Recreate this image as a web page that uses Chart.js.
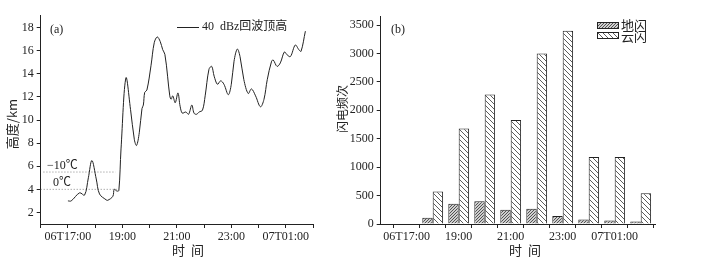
<!DOCTYPE html>
<html>
<head>
<meta charset="utf-8">
<script src="https://cdn.jsdelivr.net/npm/chart.js@4/dist/chart.umd.min.js"></script>
<style>
  html, body { margin: 0; padding: 0; background: #fff; }
  #wrap { position: relative; width: 710px; height: 261px; }
  #chartA { position: absolute; left: 0; top: 0; }
  #chartB { position: absolute; left: 330px; top: 0; }
</style>
</head>
<body>
<div id="wrap">
  <canvas id="chartA" width="330" height="261"></canvas>
  <canvas id="chartB" width="380" height="261"></canvas>
</div>
<script>
// (a) 40 dBz echo top, time in hours (17 = 06T17:00, 25 = 07T01:00)
var echoHours = [17.0, 17.12, 17.43, 17.61, 17.75, 17.88, 18.04, 18.16, 18.4, 18.46, 18.65, 18.7, 18.8,
  18.87, 18.95, 19.13, 19.3, 19.44, 19.52, 19.62, 19.72, 19.77, 19.82, 19.9, 20.05, 20.17, 20.28,
  20.39, 20.48, 20.56, 20.66, 20.74, 20.79, 20.85, 20.94, 21.04, 21.12, 21.2, 21.33, 21.43, 21.55,
  21.63, 21.72, 21.82, 21.94, 22.04, 22.18, 22.28, 22.37, 22.49, 22.61, 22.73, 22.89, 23.0, 23.1,
  23.22, 23.32, 23.46, 23.62, 23.74, 23.89, 24.07, 24.2, 24.32, 24.48, 24.54, 24.68, 24.8, 24.95,
  25.05, 25.17, 25.35, 25.48, 25.56, 25.72];
var echoTop = [3.0, 3.0, 3.7, 3.5, 5.0, 6.5, 4.9, 3.6, 3.1, 3.05, 3.4, 4.0, 3.85,
  3.9, 7.5, 13.65, 10.9, 8.3, 7.8, 8.9, 11.0, 11.3, 12.4, 12.6, 14.7, 16.7, 17.2,
  16.8, 16.1, 15.7, 13.8, 12.1, 11.8, 12.1, 11.5, 12.35, 11.2, 10.6, 10.7, 10.5, 11.3,
  10.6, 10.5, 10.7, 10.85, 12.1, 14.4, 14.65, 13.8, 13.1, 13.4, 13.1, 12.2, 13.1, 15.1,
  16.15, 15.5, 13.5, 12.3, 12.7, 12.1, 11.15, 11.8, 13.5, 15.1, 15.2, 14.65, 14.95, 15.9,
  15.65, 15.5, 16.5, 16.1, 15.95, 17.7];
var isoM10 = { x: [16.1, 18.75], y: 5.5 };
var iso0 = { x: [16.0, 18.85], y: 4.0 };

// (b) hourly lightning counts
var flashHours = [17, 18, 19, 20, 21, 22, 23, 24, 25, 26];
var groundFlash = [0, 110, 355, 400, 250, 270, 140, 80, 60, 45];
var cloudFlash = [8, 570, 1680, 2280, 1830, 3000, 3400, 1180, 1180, 540];

// ticks
var hourTicks = [16, 17, 18, 19, 20, 21, 22, 23, 24, 25, 26];
var timeLabels = { 17: "06T17:00", 19: "19:00", 21: "21:00", 23: "23:00", 25: "07T01:00" };
var heightTicks = [2, 4, 6, 8, 10, 12, 14, 16, 18];
var countTicks = [0, 500, 1000, 1500, 2000, 2500, 3000, 3500];

var FONT = "'Liberation Serif', 'Noto Sans CJK SC', serif";
var CJK = "'Noto Sans CJK SC', 'Liberation Serif', serif";
var INK = "#222";

Chart.defaults.font.family = FONT;
Chart.defaults.font.size = 12;
Chart.defaults.color = INK;
Chart.defaults.animation = false;

function points(xs, ys) {
  return xs.map(function (x, i) { return { x: x, y: ys[i] }; });
}
function flat(xs, y) {
  return xs.map(function (x) { return { x: x, y: y }; });
}
function fixTicks(values) {
  return function (s) {
    s.ticks = values.map(function (v) { return { value: v }; });
  };
}

/**
 * hatch pattern, dir 1 = "/" , -1 = "\"
 */
function hatch(size, dir, color, bg, lw) {
  var c = document.createElement("canvas");
  c.width = size; c.height = size;
  var g = c.getContext("2d");
  g.fillStyle = bg;
  g.fillRect(0, 0, size, size);
  g.strokeStyle = color;
  g.lineWidth = lw;
  g.beginPath();
  for (var k = -1; k <= 2; k++) {
    if (dir > 0) { g.moveTo(k * size, 0); g.lineTo(k * size - size, size); }
    else { g.moveTo(k * size, 0); g.lineTo(k * size + size, size); }
  }
  g.stroke();
  return g.createPattern(c, "repeat");
}

var ctxB = document.getElementById("chartB").getContext("2d");
var groundFill = hatch(3, 1, "#444", "#cfcfcf", 0.9);
var cloudFill = hatch(5, -1, "#333", "#fff", 0.8);

function axisStyle() {
  return {
    border: { display: true, color: INK, width: 1 },
    grid: { drawOnChartArea: false, drawTicks: true, tickLength: 4, color: INK }
  };
}

function timeAxis(min, max) {
  return Object.assign(axisStyle(), {
    type: "linear",
    min: min,
    max: max,
    offset: false,
    afterBuildTicks: fixTicks(hourTicks),
    afterFit: function (s) { s.height = 37; },
    ticks: {
      autoSkip: false,
      maxRotation: 0,
      padding: 2,
      callback: function (v) { return timeLabels[v] || ""; }
    }
  });
}

function valueAxis(min, max, values, width) {
  return Object.assign(axisStyle(), {
    min: min,
    max: max,
    afterBuildTicks: fixTicks(values),
    afterFit: function (s) { s.width = width; },
    ticks: {
      autoSkip: false,
      padding: 3,
      callback: function (v) { return String(v); }
    }
  });
}

// extra texts: titles, panel labels, legends
const textPlugin = {
  id: "texts",
  afterDraw(chart, args, opts) {
    const c = chart.ctx;
    c.save();
    c.fillStyle = INK;
    c.textBaseline = "middle";
    (opts.items || []).forEach(function (t) {
      c.font = (t.size || 12) + "px " + (t.cjk ? CJK : FONT);
      c.textAlign = t.align || "left";
      if (t.rotate) {
        c.save();
        c.translate(t.x, t.y);
        c.rotate(-Math.PI / 2);
        c.textAlign = "center";
        c.fillText(t.text, 0, 0);
        c.restore();
      } else {
        c.fillText(t.text, t.x, t.y);
      }
    });
    (opts.boxes || []).forEach(function (b) {
      c.fillStyle = b.fill;
      c.fillRect(b.x, b.y, b.w, b.h);
      c.strokeStyle = INK;
      c.lineWidth = 1;
      c.strokeRect(b.x + 0.5, b.y + 0.5, b.w, b.h);
    });
    (opts.lines || []).forEach(function (l) {
      c.strokeStyle = INK;
      c.lineWidth = 1;
      c.beginPath();
      c.moveTo(l.x1, l.y);
      c.lineTo(l.x2, l.y);
      c.stroke();
    });
    c.restore();
  }
};

new Chart(document.getElementById("chartA"), {
  type: "line",
  data: {
    datasets: [
      {
        data: points(echoHours, echoTop),
        borderColor: INK,
        borderWidth: 1,
        pointRadius: 0,
        tension: 0.35
      },
      {
        data: flat(isoM10.x, isoM10.y),
        borderColor: "#888",
        borderWidth: 1,
        borderDash: [1, 2],
        pointRadius: 0
      },
      {
        data: flat(iso0.x, iso0.y),
        borderColor: "#888",
        borderWidth: 1,
        borderDash: [1, 2],
        pointRadius: 0
      }
    ]
  },
  options: {
    responsive: false,
    layout: { padding: { left: 0, right: 17, top: 15, bottom: 0 } },
    plugins: {
      legend: { display: false },
      tooltip: { enabled: false },
      texts: {
        items: [
          { text: "高度/km", x: 12, y: 124, rotate: true, cjk: true, size: 13 },
          { text: "时  间", x: 188, y: 250, align: "center", cjk: true, size: 13 },
          { text: "(a)", x: 50, y: 30 },
          { text: "40  dBz回波顶高", x: 202, y: 27, size: 12 },
          { text: "−10℃", x: 47, y: 166 },
          { text: "0℃", x: 53, y: 183 }
        ],
        lines: [{ x1: 177, x2: 199, y: 27.5 }]
      }
    },
    scales: {
      x: timeAxis(16, 26),
      y: valueAxis(1, 19.1, heightTicks, 40.7)
    }
  },
  plugins: [textPlugin]
});

new Chart(ctxB, {
  type: "bar",
  data: {
    datasets: [
      {
        label: "地闪",
        data: points(flashHours, groundFlash),
        backgroundColor: groundFill,
        borderColor: INK,
        borderWidth: 1,
        categoryPercentage: 0.8,
        barPercentage: 1.0
      },
      {
        label: "云闪",
        data: points(flashHours, cloudFlash),
        backgroundColor: cloudFill,
        borderColor: INK,
        borderWidth: 1,
        categoryPercentage: 0.8,
        barPercentage: 1.0
      }
    ]
  },
  options: {
    responsive: false,
    layout: { padding: { left: 0, right: 55, top: 16, bottom: 0 } },
    plugins: {
      legend: { display: false },
      tooltip: { enabled: false },
      texts: {
        items: [
          { text: "闪电频次", x: 12, y: 109, rotate: true, cjk: true, size: 12 },
          { text: "时  间", x: 195, y: 250, align: "center", cjk: true, size: 13 },
          { text: "(b)", x: 61, y: 30 },
          { text: "地闪", x: 291, y: 25, cjk: true, size: 13 },
          { text: "云闪", x: 291, y: 36, cjk: true, size: 13 }
        ],
        boxes: [
          { x: 267, y: 22, w: 21, h: 6, fill: groundFill },
          { x: 267, y: 32, w: 21, h: 6, fill: cloudFill }
        ]
      }
    },
    scales: {
      x: timeAxis(16, 26.55),
      y: valueAxis(0, 3660, countTicks, 50.7)
    }
  },
  plugins: [textPlugin]
});
</script>
</body>
</html>
